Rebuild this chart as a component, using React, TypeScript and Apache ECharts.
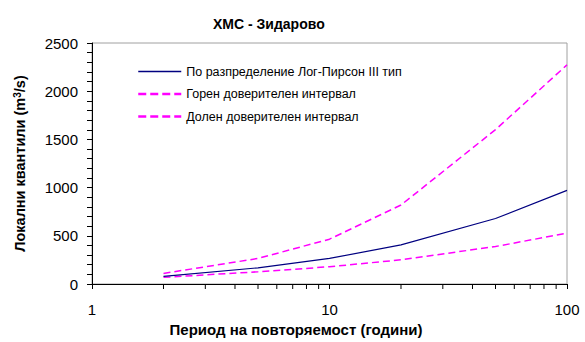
import React, { useEffect, useRef } from "react";
import * as echarts from "echarts";

// Return periods (years) and quantile values (m³/s)
const returnPeriods = [2, 5, 10, 20, 50, 100];
const logPearson3 = [80, 168, 265, 406, 679, 971];
const upperBound = [110, 265, 465, 819, 1601, 2273];
const lowerBound = [69, 127, 179, 251, 389, 527];

// Minor tick positions for the logarithmic period axis
const minorTicks = [2, 3, 4, 5, 6, 7, 8, 9, 20, 30, 40, 50, 60, 70, 80, 90];

const seriesNames = [
  "По разпределение Лог-Пирсон III тип",
  "Горен доверителен интервал",
  "Долен доверителен интервал",
];

const FONT = "Liberation Sans, Arial, sans-serif";

const pairs = (ys: number[]) => returnPeriods.map((t, i) => [t, ys[i]]);

export default function App() {
  const ref = useRef<HTMLDivElement>(null);

  useEffect(() => {
    if (!ref.current) return;
    const chart = echarts.init(ref.current, null, { renderer: "svg" });
    chart.setOption({
      animation: false,
      backgroundColor: "#fff",
      textStyle: { fontFamily: FONT, color: "#000" },
      title: {
        text: "ХМС - Зидарово",
        left: 208,
        top: 12,
        textStyle: { fontFamily: FONT, fontSize: 14, fontWeight: "bold", color: "#000" },
      },
      grid: {
        left: 92,
        right: 18,
        top: 43,
        bottom: 57,
        show: true,
        borderColor: "#a0a0a0",
        borderWidth: 1,
      },
      legend: {
        data: [
          { name: seriesNames[0], lineStyle: { width: 1.5 } },
          { name: seriesNames[1], lineStyle: { width: 2.5, type: [8, 4] } },
          { name: seriesNames[2], lineStyle: { width: 2.5, type: [8, 4] } },
        ],
        orient: "vertical",
        left: 132,
        top: 60,
        itemWidth: 43,
        itemHeight: 14,
        itemGap: 9.5,
        itemStyle: { opacity: 0 },
        textStyle: { fontFamily: FONT, fontSize: 12.5, color: "#000" },
      },
      xAxis: {
        type: "log",
        logBase: 10,
        min: 1,
        max: 100,
        name: "Период на повторяемост (години)",
        nameLocation: "middle",
        nameGap: 38,
        nameTextStyle: {
          fontFamily: FONT,
          fontSize: 15,
          fontWeight: "bold",
          color: "#000",
          padding: [0, 67, 0, 0],
        },
        axisLine: { lineStyle: { color: "#000", width: 1 } },
        axisTick: { show: true, length: 5, lineStyle: { color: "#000" } },
        axisLabel: { fontFamily: FONT, fontSize: 15, color: "#000", margin: 18 },
        splitLine: { show: false },
      },
      yAxis: {
        type: "value",
        min: 0,
        max: 2500,
        interval: 500,
        name: "{a|Локални квантили (m}{s|3}{a|/s)}",
        nameLocation: "middle",
        nameGap: 64,
        nameTextStyle: {
          rich: {
            a: { fontFamily: FONT, fontSize: 14.5, fontWeight: "bold", color: "#000" },
            s: {
              fontFamily: FONT,
              fontSize: 10,
              fontWeight: "bold",
              color: "#000",
              verticalAlign: "top",
              padding: [0, 0, 6, 0],
            },
          },
        },
        axisLine: { show: true, lineStyle: { color: "#000", width: 1 } },
        axisTick: { show: true, length: 5, lineStyle: { color: "#000" } },
        minorTick: { show: true, splitNumber: 5, length: 5, lineStyle: { color: "#000" } },
        axisLabel: {
          fontFamily: FONT,
          fontSize: 15,
          color: "#000",
          margin: 14,
          formatter: (v: number) => String(v),
        },
        splitLine: { show: false },
      },
      series: [
        {
          name: seriesNames[0],
          type: "line",
          data: pairs(logPearson3),
          symbol: "none",
          lineStyle: { color: "#000080", width: 1.2, type: "solid" },
          itemStyle: { color: "#000080" },
          z: 3,
        },
        {
          name: seriesNames[1],
          type: "line",
          data: pairs(upperBound),
          symbol: "none",
          lineStyle: { color: "#ff00ff", width: 1.5, type: [7, 4] },
          itemStyle: { color: "#ff00ff" },
          z: 2,
        },
        {
          name: seriesNames[2],
          type: "line",
          data: pairs(lowerBound),
          symbol: "none",
          lineStyle: { color: "#ff00ff", width: 1.5, type: [7, 4] },
          itemStyle: { color: "#ff00ff" },
          z: 2,
        },
        {
          type: "custom",
          silent: true,
          clip: false,
          data: minorTicks.map((t) => [t, 0]),
          renderItem: (_params: any, api: any) => {
            const p = api.coord([api.value(0), 0]);
            return {
              type: "line",
              shape: { x1: p[0], y1: p[1], x2: p[0], y2: p[1] + 5 },
              style: { stroke: "#000", lineWidth: 1 },
            };
          },
          z: 1,
        },
      ],
    });
    return () => chart.dispose();
  }, []);

  return (
    <div
      ref={ref}
      style={{ position: "fixed", left: 0, top: 0, width: 585, height: 342 }}
    />
  );
}
